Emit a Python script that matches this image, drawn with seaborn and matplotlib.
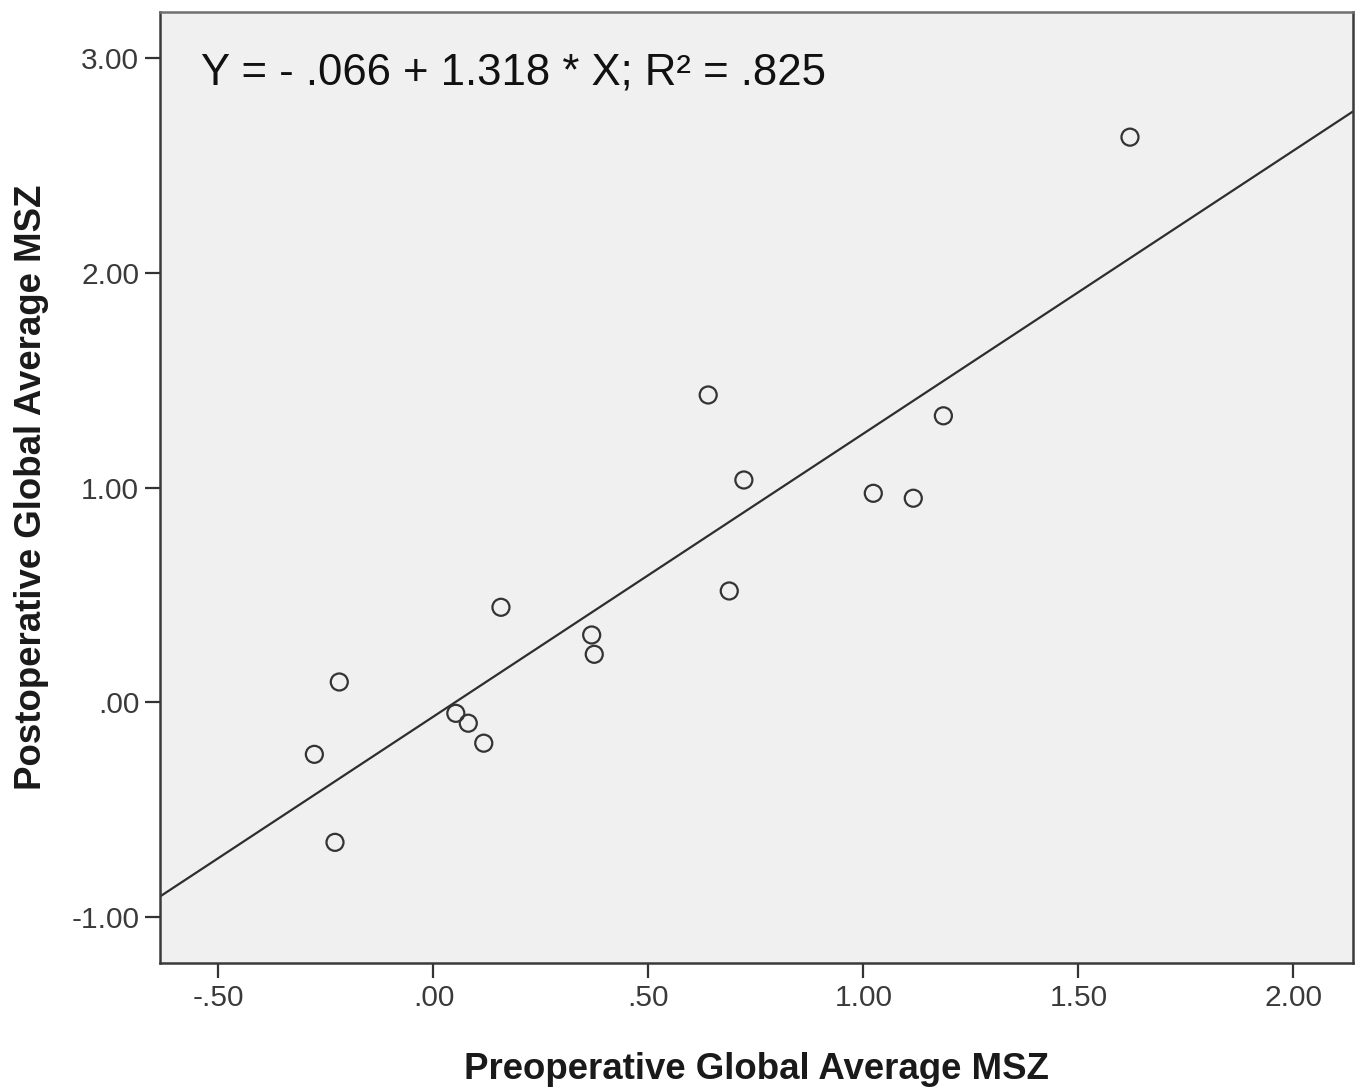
import matplotlib
matplotlib.use("Agg")
import matplotlib.pyplot as plt
import seaborn as sns
import pandas as pd
from matplotlib.ticker import FuncFormatter, FixedLocator

# Data
pre_msz = [1.620, 0.639, 1.186, 0.722, 1.023, 1.116, 0.688, 0.157,
           0.368, 0.374, -0.219, 0.052, 0.081, 0.117, -0.277, -0.229]
post_msz = [2.633, 1.432, 1.335, 1.036, 0.974, 0.951, 0.519, 0.443,
            0.314, 0.224, 0.095, -0.051, -0.097, -0.190, -0.242, -0.652]
fit_intercept = -0.066
fit_slope = 1.318
equation_label = "Y = - .066 + 1.318 * X; R\u00b2 = .825"
x_ticks = [-0.5, 0.0, 0.5, 1.0, 1.5, 2.0]
y_ticks = [-1.0, 0.0, 1.0, 2.0, 3.0]
x_label = "Preoperative Global Average MSZ"
y_label = "Postoperative Global Average MSZ"

df = pd.DataFrame({"pre": pre_msz, "post": post_msz})

sns.set_theme(style="white")
plt.rcParams["font.family"] = ["Liberation Sans", "DejaVu Sans"]

fig = plt.figure(figsize=(13.58, 10.89), dpi=100)
ax = fig.add_axes([160 / 1358, (1089 - 963) / 1089, (1352.7 - 160) / 1358, (963 - 12) / 1089])
ax.set_facecolor("#f0f0f0")

ax.set_xlim(-0.636, 2.138)
ax.set_ylim(-1.214, 3.216)

ax.axline((0, fit_intercept), slope=fit_slope, color="#2e2e2e", lw=1.6, zorder=2)

sns.scatterplot(data=df, x="pre", y="post", ax=ax, marker="o", s=150,
                facecolors="none", edgecolor="#333333", linewidth=1.6, zorder=3)


def spss_fmt(v, pos):
    s = f"{v:.2f}"
    if s.startswith("0."):
        s = s[1:]
    elif s.startswith("-0."):
        s = "-" + s[2:]
    return s


ax.xaxis.set_major_locator(FixedLocator(x_ticks))
ax.yaxis.set_major_locator(FixedLocator(y_ticks))
ax.xaxis.set_major_formatter(FuncFormatter(spss_fmt))
ax.yaxis.set_major_formatter(FuncFormatter(spss_fmt))

ax.tick_params(axis="both", which="major", direction="out", length=11, width=1.6,
               color="#333333", labelcolor="#3a3a3a", labelsize=21.5, pad=4,
               bottom=True, left=True)

for side, sp in ax.spines.items():
    sp.set_visible(True)
    sp.set_color("#3a3a3a")
    sp.set_linewidth(1.8)
ax.spines["top"].set_color("#707070")

ax.set_xlabel(x_label, fontsize=26.4, fontweight="bold", color="#1a1a1a", labelpad=29)
ax.set_ylabel(y_label, fontsize=26.4, fontweight="bold", color="#1a1a1a", labelpad=16)

ax.text(0.034, 0.936, equation_label, transform=ax.transAxes, fontsize=31.5,
        color="#111111", ha="left", va="center")

fig.savefig("out.png", dpi=100, facecolor="white")
